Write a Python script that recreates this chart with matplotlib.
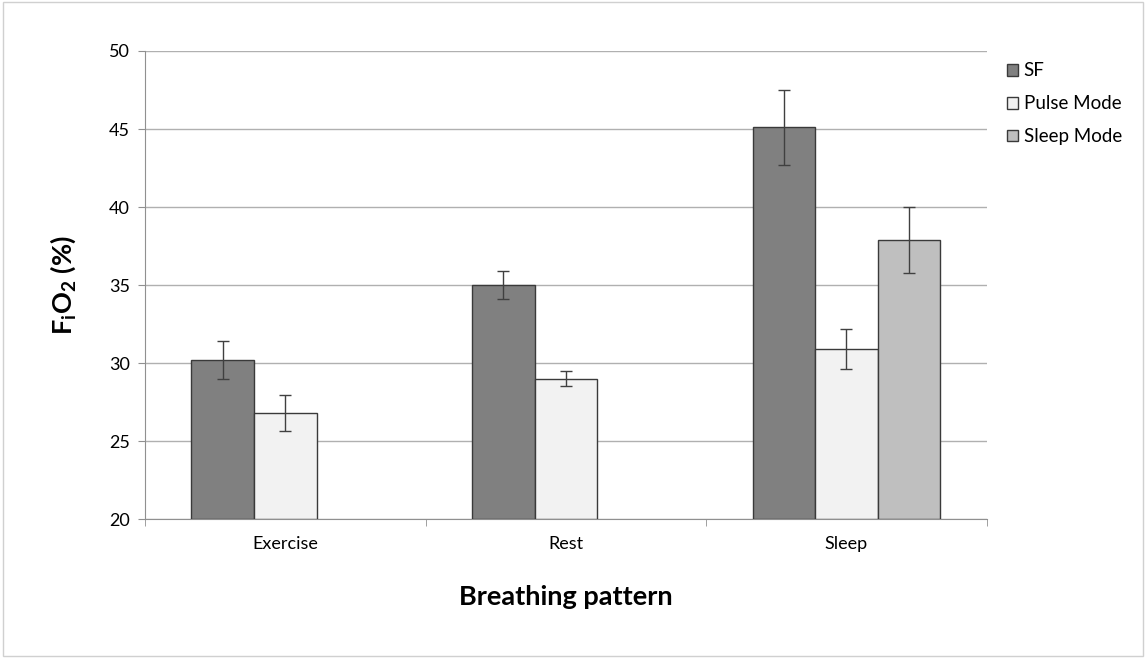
import numpy as np
import matplotlib

matplotlib.use('Agg')
import matplotlib.pyplot as plt
from matplotlib.patches import Rectangle

plt.rcParams['font.family'] = ['Lato', 'DejaVu Sans']

categories = ['Exercise', 'Rest', 'Sleep']
series_names = ['SF', 'Pulse Mode', 'Sleep Mode']
sf_values = [30.2, 35.0, 45.1]
sf_errors = [1.2, 0.9, 2.4]
pulse_values = [26.8, 29.0, 30.9]
pulse_errors = [1.15, 0.5, 1.3]
sleep_values = [np.nan, np.nan, 37.9]
sleep_errors = [np.nan, np.nan, 2.1]

colors = ['#808080', '#f2f2f2', '#bfbfbf']
edge = '#3a3a3a'

fig = plt.figure(figsize=(11.46, 6.58), dpi=100)
ax = fig.add_axes([0.1265, 0.2112, 0.7345, 0.7113])

x = np.arange(len(categories))
width = 0.223
data = [(sf_values, sf_errors), (pulse_values, pulse_errors), (sleep_values, sleep_errors)]
for i, (vals, errs) in enumerate(data):
    ax.bar(x + (i - 1) * width, np.array(vals) - 20, width, bottom=20,
           color=colors[i], edgecolor=edge, linewidth=1.0, label=series_names[i],
           zorder=3)
    ax.errorbar(x + (i - 1) * width, vals, yerr=errs, fmt='none', ecolor='#404040',
                elinewidth=1.0, capsize=4, capthick=1.0, zorder=4)

ax.set_ylim(20, 50)
ax.set_xlim(-0.5, 2.5)
ax.set_yticks(range(20, 51, 5))
ax.yaxis.grid(True, color='#b0b0b0', linewidth=1.0, zorder=0)
ax.set_axisbelow(True)

ax.set_xticks(x)
ax.set_xticklabels(categories, fontsize=13)
ax.set_xticks([-0.5, 0.5, 1.5, 2.5], minor=True)
ax.tick_params(axis='x', which='major', length=0, pad=12)
ax.tick_params(axis='x', which='minor', length=5, color='#909090', direction='out')
ax.tick_params(axis='y', length=5, color='#909090', labelsize=13, pad=6)

for s in ['top', 'right']:
    ax.spines[s].set_visible(False)
for s in ['left', 'bottom']:
    ax.spines[s].set_color('#909090')

ax.set_xlabel('Breathing pattern', fontsize=19.5, fontweight='bold', labelpad=24)
ax.set_ylabel('F$_\\mathregular{i}$O$_\\mathregular{2}$ (%)', fontsize=19.5,
              fontweight='bold', labelpad=22)

ax.legend(loc='upper left', bbox_to_anchor=(1.004, 1.012), frameon=False,
          fontsize=13.5, handlelength=0.6, handleheight=0.6, handletextpad=0.3,
          labelspacing=0.85)

fig.patches.append(Rectangle((0.003, 0.003), 0.994, 0.994, transform=fig.transFigure,
                             fill=False, edgecolor='#d0d0d0', linewidth=1.0))

fig.savefig('out.png', dpi=100)
